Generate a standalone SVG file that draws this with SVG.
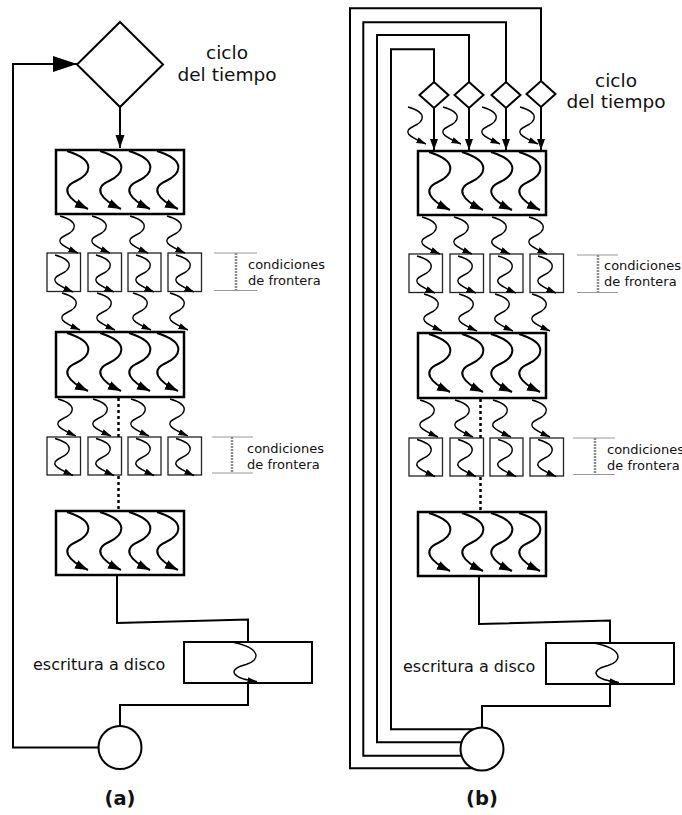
<svg xmlns="http://www.w3.org/2000/svg" width="682" height="815" viewBox="0 0 682 815">
<defs>
<style>
.big{fill:#fff;stroke:#000;stroke-width:2.5}
.sm{fill:#fff;stroke:#222;stroke-width:1.3}
.disk{fill:#fff;stroke:#000;stroke-width:2}
.dia{fill:#fff;stroke:#000;stroke-width:2}
.ln{fill:none;stroke:#000;stroke-width:2}
.dot{fill:none;stroke:#000;stroke-width:2.5;stroke-dasharray:3 3}
.br{stroke:#999;stroke-width:1}
.brv{stroke:#8c8c8c;stroke-width:2.5;stroke-dasharray:2 1}
.t{font-family:"DejaVu Sans",sans-serif;fill:#111}
.t18{font-size:18.5px}
.t13{font-size:13px}
.t16{font-size:16px}
.lab{font-size:19.5px;font-weight:bold}
</style>
<marker id="hSqB" markerUnits="userSpaceOnUse" markerWidth="14" markerHeight="10" refX="13" refY="4.5" orient="auto"><path d="M0,0 L13,4.5 L0,9 z" fill="#000"/></marker>
<marker id="hSqS" markerUnits="userSpaceOnUse" markerWidth="10" markerHeight="7" refX="9.5" refY="3.25" orient="auto"><path d="M0,0 L9.5,3.25 L0,6.5 z" fill="#000"/></marker>
<marker id="hDown" markerUnits="userSpaceOnUse" markerWidth="14" markerHeight="10" refX="13" refY="4.5" orient="auto"><path d="M0,0 L13,4.5 L0,9 z" fill="#000"/></marker>
<marker id="hDownB" markerUnits="userSpaceOnUse" markerWidth="12" markerHeight="10" refX="11" refY="4" orient="auto"><path d="M0,0 L11,4 L0,8 z" fill="#000"/></marker>
<marker id="hLoop" markerUnits="userSpaceOnUse" markerWidth="25" markerHeight="17" refX="24" refY="8" orient="auto"><path d="M0,0 L24,8 L0,16 z" fill="#000"/></marker>
<path id="sqB" d="M0,0 C32,10 22,24 9,30 C-7,37 0,48 21,58" fill="none" stroke="#000" stroke-width="2" marker-end="url(#hSqB)"/>
<path id="sqS" d="M0,0 C21,6 15,15 6,19 C-6,25 0,29 18,37" fill="none" stroke="#000" stroke-width="1.4" marker-end="url(#hSqS)"/>
<path id="sqD" d="M0,0 C28,6 26,18 12,22 C-8,27 -2,36 23,39" fill="none" stroke="#000" stroke-width="1.4" marker-end="url(#hSqS)"/>
</defs>
<rect x="0" y="0" width="682" height="815" fill="#fff"/>

<!-- ============ PANEL (a) ============ -->
<g id="a-diamond"><polygon class="dia" points="120,22 163,64.5 120,107 77,64.5"/></g>
<g id="a-box1"><rect class="big" x="56" y="150" width="128" height="64"/>
<use href="#sqB" x="67" y="151"/><use href="#sqB" x="100" y="151"/><use href="#sqB" x="129" y="151"/><use href="#sqB" x="157" y="151"/></g>
<g id="a-row1-1"><rect class="sm" x="47" y="253" width="33.5" height="38.5"/><use href="#sqS" x="55" y="255"/></g>
<g id="a-row1-2"><rect class="sm" x="88" y="253" width="33.5" height="38.5"/><use href="#sqS" x="96" y="255"/></g>
<g id="a-row1-3"><rect class="sm" x="128" y="253" width="33" height="38.5"/><use href="#sqS" x="136" y="255"/></g>
<g id="a-row1-4"><rect class="sm" x="168" y="253" width="33.5" height="38.5"/><use href="#sqS" x="176" y="255"/></g>
<g id="a-box2"><rect class="big" x="56" y="332" width="128" height="65"/>
<use href="#sqB" x="67" y="333"/><use href="#sqB" x="100" y="333"/><use href="#sqB" x="129" y="333"/><use href="#sqB" x="157" y="333"/></g>
<g id="a-row2-1"><rect class="sm" x="47" y="437" width="33.5" height="38"/><use href="#sqS" x="55" y="438.5"/></g>
<g id="a-row2-2"><rect class="sm" x="88" y="437" width="33.5" height="38"/><use href="#sqS" x="96" y="438.5"/></g>
<g id="a-row2-3"><rect class="sm" x="128" y="437" width="33" height="38"/><use href="#sqS" x="136" y="438.5"/></g>
<g id="a-row2-4"><rect class="sm" x="168" y="437" width="33.5" height="38"/><use href="#sqS" x="176" y="438.5"/></g>
<g id="a-box3"><rect class="big" x="56" y="511" width="128" height="64"/>
<use href="#sqB" x="67" y="512"/><use href="#sqB" x="100" y="512"/><use href="#sqB" x="129" y="512"/><use href="#sqB" x="157" y="512"/></g>
<g id="a-disk"><rect class="disk" x="184" y="642" width="128" height="41"/><use href="#sqD" x="234" y="642.5"/></g>
<g id="a-circle"><circle class="disk" cx="120" cy="747.5" r="21.5"/></g>

<g id="a-labels" class="t">
<text class="t18" x="227" y="59" text-anchor="middle">ciclo</text>
<text class="t18" x="227" y="81" text-anchor="middle">del tiempo</text>
<line class="br" x1="214" y1="253" x2="257" y2="253"/><line class="br" x1="214" y1="290.5" x2="257" y2="290.5"/>
<line class="brv" x1="236" y1="253" x2="236" y2="290.5"/>
<text class="t13" x="248" y="268.5">condiciones</text>
<text class="t13" x="248" y="284.5">de frontera</text>
<line class="br" x1="212" y1="437" x2="253" y2="437"/><line class="br" x1="212" y1="473" x2="253" y2="473"/>
<line class="brv" x1="232" y1="437" x2="232" y2="473"/>
<text class="t13" x="247" y="452.5">condiciones</text>
<text class="t13" x="247" y="468.5">de frontera</text>
<text class="t16" x="33" y="670">escritura a disco</text>
<text class="lab" x="120" y="805" text-anchor="middle">(a)</text>
</g>

<g id="a-connectors">
<path class="ln" d="M98.5,747.5 H13 V64 H77" marker-end="url(#hLoop)"/>
<path class="ln" d="M120,107 V148" marker-end="url(#hDown)"/>
<use href="#sqS" x="60" y="216"/><use href="#sqS" x="92" y="216"/><use href="#sqS" x="130" y="216"/><use href="#sqS" x="167" y="216"/>
<use href="#sqS" x="62" y="293"/><use href="#sqS" x="97" y="293"/><use href="#sqS" x="133" y="293"/><use href="#sqS" x="170" y="293"/>
<use href="#sqS" x="58" y="399"/><use href="#sqS" x="93" y="399"/><use href="#sqS" x="131" y="399"/><use href="#sqS" x="170" y="399"/>
<path class="dot" d="M118.5,398 V437 M118.5,476 V511"/>
<path class="ln" d="M117,575 V623 L248,619.5 V642"/>
<path class="ln" d="M248,683 V705 H120 V726"/>
</g>

<!-- ============ PANEL (b) ============ -->
<g id="b-diamond1"><polygon class="dia" points="434,82 448.5,95 434,108 419.5,95"/></g>
<g id="b-diamond2"><polygon class="dia" points="469,82 483.5,95 469,108 454.5,95"/></g>
<g id="b-diamond3"><polygon class="dia" points="506,82 520.5,95 506,108 491.5,95"/></g>
<g id="b-diamond4"><polygon class="dia" points="541,81 555.5,94 541,107 526.5,94"/></g>

<g transform="translate(362,1)">
<g id="b-box1"><rect class="big" x="56" y="150" width="128" height="64"/>
<use href="#sqB" x="67" y="151"/><use href="#sqB" x="100" y="151"/><use href="#sqB" x="129" y="151"/><use href="#sqB" x="157" y="151"/></g>
<g id="b-row1-1"><rect class="sm" x="47" y="253" width="33.5" height="38.5"/><use href="#sqS" x="55" y="255"/></g>
<g id="b-row1-2"><rect class="sm" x="88" y="253" width="33.5" height="38.5"/><use href="#sqS" x="96" y="255"/></g>
<g id="b-row1-3"><rect class="sm" x="128" y="253" width="33" height="38.5"/><use href="#sqS" x="136" y="255"/></g>
<g id="b-row1-4"><rect class="sm" x="168" y="253" width="33.5" height="38.5"/><use href="#sqS" x="176" y="255"/></g>
<g id="b-box2"><rect class="big" x="56" y="332" width="128" height="65"/>
<use href="#sqB" x="67" y="333"/><use href="#sqB" x="100" y="333"/><use href="#sqB" x="129" y="333"/><use href="#sqB" x="157" y="333"/></g>
<g id="b-row2-1"><rect class="sm" x="47" y="437" width="33.5" height="38"/><use href="#sqS" x="55" y="438.5"/></g>
<g id="b-row2-2"><rect class="sm" x="88" y="437" width="33.5" height="38"/><use href="#sqS" x="96" y="438.5"/></g>
<g id="b-row2-3"><rect class="sm" x="128" y="437" width="33" height="38"/><use href="#sqS" x="136" y="438.5"/></g>
<g id="b-row2-4"><rect class="sm" x="168" y="437" width="33.5" height="38"/><use href="#sqS" x="176" y="438.5"/></g>
<g id="b-box3"><rect class="big" x="56" y="511" width="128" height="64"/>
<use href="#sqB" x="67" y="512"/><use href="#sqB" x="100" y="512"/><use href="#sqB" x="129" y="512"/><use href="#sqB" x="157" y="512"/></g>
<g id="b-disk"><rect class="disk" x="184" y="642" width="128" height="41"/><use href="#sqD" x="234" y="642.5"/></g>
<g id="b-circle"><circle class="disk" cx="120" cy="748" r="21.5"/></g>
</g>

<g id="b-labels" class="t">
<text class="t18" x="616" y="86.5" text-anchor="middle">ciclo</text>
<text class="t18" x="616" y="108" text-anchor="middle">del tiempo</text>
<line class="br" x1="577" y1="255" x2="618" y2="255"/><line class="br" x1="577" y1="292.5" x2="618" y2="292.5"/>
<line class="brv" x1="598" y1="255" x2="598" y2="292.5"/>
<text class="t13" x="604" y="269.5">condiciones</text>
<text class="t13" x="604" y="286">de frontera</text>
<line class="br" x1="573" y1="438" x2="615" y2="438"/><line class="br" x1="573" y1="474.5" x2="615" y2="474.5"/>
<line class="brv" x1="595" y1="438" x2="595" y2="474.5"/>
<text class="t13" x="607" y="453.5">condiciones</text>
<text class="t13" x="607" y="470">de frontera</text>
<text class="t16" x="403" y="672">escritura a disco</text>
<text class="lab" x="482" y="805" text-anchor="middle">(b)</text>
</g>

<g id="b-connectors">
<path class="ln" d="M473.4,729.3 H391 V49.3 H434 V82"/>
<path class="ln" d="M461.6,742.3 H377 V35 H469 V82"/>
<path class="ln" d="M461.6,755.7 H363.3 V22.3 H506 V82"/>
<path class="ln" d="M472.5,768.3 H350 V8.3 H541 V81"/>
<path class="ln" d="M434,108 V150" marker-end="url(#hDownB)"/>
<path class="ln" d="M469,108 V150" marker-end="url(#hDownB)"/>
<path class="ln" d="M506,108 V150" marker-end="url(#hDownB)"/>
<path class="ln" d="M541,107 V150" marker-end="url(#hDownB)"/>
<use href="#sqS" x="408" y="107"/><use href="#sqS" x="443" y="107"/><use href="#sqS" x="482" y="107"/><use href="#sqS" x="520" y="107"/>
<g transform="translate(362,1)">
<use href="#sqS" x="60" y="216"/><use href="#sqS" x="92" y="216"/><use href="#sqS" x="130" y="216"/><use href="#sqS" x="167" y="216"/>
<use href="#sqS" x="62" y="293"/><use href="#sqS" x="97" y="293"/><use href="#sqS" x="133" y="293"/><use href="#sqS" x="170" y="293"/>
<use href="#sqS" x="58" y="399"/><use href="#sqS" x="93" y="399"/><use href="#sqS" x="131" y="399"/><use href="#sqS" x="170" y="399"/>
<path class="dot" d="M118.5,398 V437 M118.5,476 V511"/>
<path class="ln" d="M117,575 V623 L248,619.5 V642"/>
<path class="ln" d="M248,683 V705 H120 V726.5"/>
</g>
</g>
</svg>
